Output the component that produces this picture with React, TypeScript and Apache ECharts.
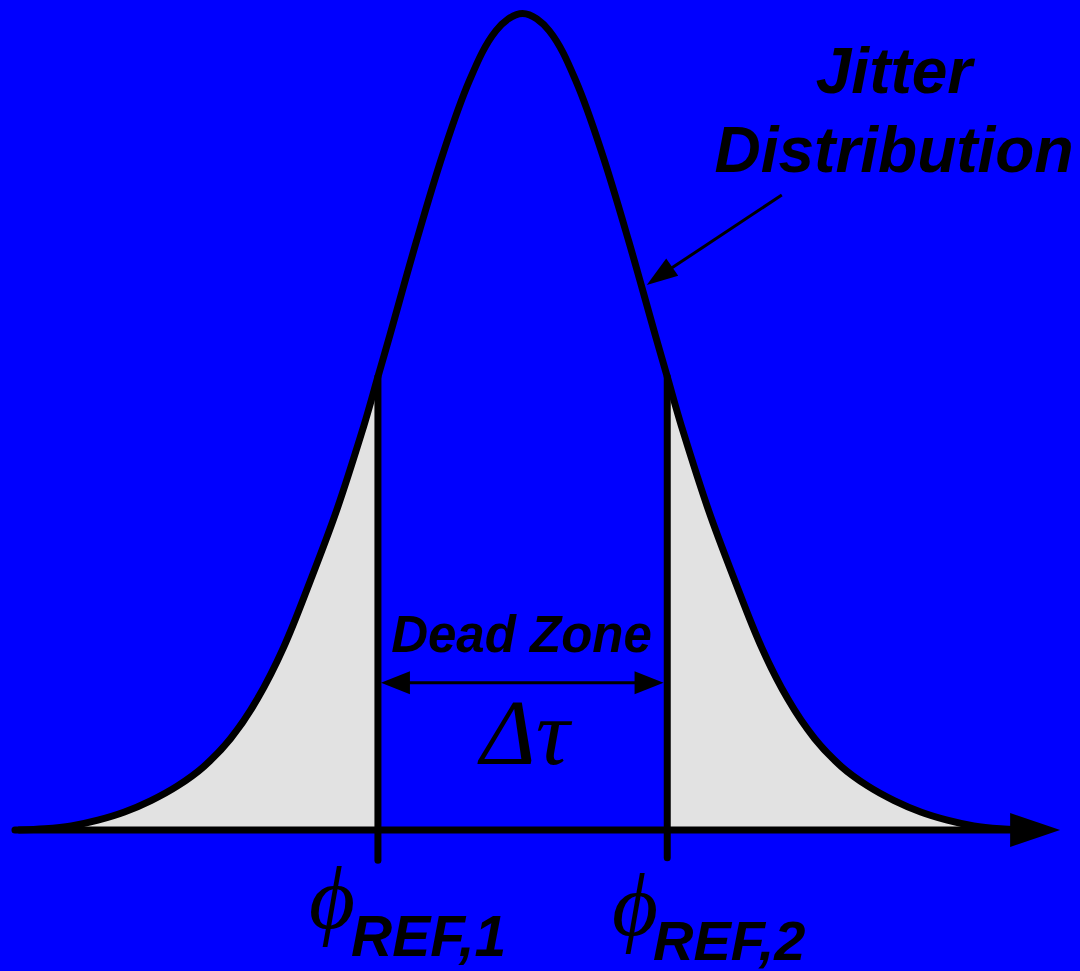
import React, { useEffect, useRef } from "react";
import * as echarts from "echarts";

// Jitter distribution (x in phase units, y in relative height), right half; mirrored for the left
const halfX = [0, 0.2, 0.4, 0.6, 0.8, 1.0, 1.09, 1.2, 1.4, 1.6, 1.8, 2.0, 2.2, 2.4, 2.6, 2.8, 3.0, 3.2, 3.4, 3.6, 3.8];
const halfY = [1.0, 0.979, 0.918, 0.828, 0.721, 0.606, 0.555, 0.493, 0.392, 0.305, 0.224, 0.160, 0.112, 0.078, 0.054, 0.036, 0.022, 0.012, 0.005, 0.0015, 0.0];

// Reference phases (phi_REF,1 and phi_REF,2)
const phiX = [-1.09, 1.09];
const phiTop = 0.555;
const phiBottom = [-0.037, -0.034];

// Horizontal axis extent
const axisStartX = -3.825;
const axisEndX = 3.75;
const axisArrowX = 3.862;

// Dead zone arrow
const deadZoneY = 0.1804;
const deadZoneLineX = [-1.0, 1.0];
const deadZoneArrowX = [-0.958, 0.953];

// Pointer from "Jitter Distribution" label to curve
const pointerFrom = [1.953, 0.7777];
const pointerHead = [1.0315, 0.6784];

export default function App() {
  const ref = useRef<HTMLDivElement>(null);
  useEffect(() => {
    if (!ref.current) return;
    const chart = echarts.init(ref.current, null, { renderer: "svg" });
    const leftPts: number[][] = [];
    for (let i = halfX.length - 1; i > 0; i--) leftPts.push([-halfX[i], halfY[i]]);
    const rightPts: number[][] = halfX.map((x, i) => [x, halfY[i]]);
    const pts = leftPts.concat(rightPts);
    const left = pts.filter((p) => p[0] <= phiX[0]);
    const right = pts.filter((p) => p[0] >= phiX[1]);
    const black = "#000000";
    const shade = "#e2e2e2";
    const lineBase = { type: "line", showSymbol: false, symbol: "none", silent: true, clip: false, z: 3 };
    const sans = '"Liberation Sans", Arial, sans-serif';
    const serif = '"Liberation Serif", "Times New Roman", serif';
    const txt = (text: string, x: number, y: number, size: number, opts: any = {}) => ({
      type: "text",
      x,
      y,
      silent: true,
      style: {
        text,
        fill: black,
        fontSize: size,
        fontWeight: opts.weight ?? "bold",
        fontStyle: "italic",
        fontFamily: opts.family ?? sans,
        align: opts.align ?? "center",
        verticalAlign: "middle",
        lineHeight: opts.lineHeight ?? size,
      },
    });
    chart.setOption({
      animation: false,
      backgroundColor: "#0000ff",
      grid: { left: 5, right: 0, top: 13.5, bottom: 2.2, containLabel: false },
      xAxis: { type: "value", min: -3.9, max: 4.2, show: false },
      yAxis: { type: "value", min: -0.17, max: 1, show: false },
      series: [
        { ...lineBase, z: 1, data: left, smooth: 0.35, lineStyle: { width: 0 }, areaStyle: { color: shade, opacity: 1 } },
        { ...lineBase, z: 1, data: right, smooth: 0.35, lineStyle: { width: 0 }, areaStyle: { color: shade, opacity: 1 } },
        { ...lineBase, data: pts, smooth: 0.35, lineStyle: { color: black, width: 7, join: "round" } },
        { ...lineBase, data: [[axisStartX, 0], [axisEndX, 0]], lineStyle: { color: black, width: 7, cap: "round" } },
        { ...lineBase, data: [[phiX[0], phiTop], [phiX[0], phiBottom[0]]], lineStyle: { color: black, width: 7, cap: "round" } },
        { ...lineBase, data: [[phiX[1], phiTop], [phiX[1], phiBottom[1]]], lineStyle: { color: black, width: 7, cap: "round" } },
        { ...lineBase, data: [[deadZoneLineX[0], deadZoneY], [deadZoneLineX[1], deadZoneY]], lineStyle: { color: black, width: 3 } },
        { ...lineBase, data: [pointerFrom, pointerHead], lineStyle: { color: black, width: 3 } },
        {
          type: "scatter",
          silent: true,
          z: 4,
          clip: false,
          symbol: "triangle",
          itemStyle: { color: black, opacity: 1 },
          data: [
            { value: [axisArrowX, 0], symbolSize: [34, 50], symbolRotate: -90 },
            { value: [deadZoneArrowX[0], deadZoneY], symbolSize: [23, 29], symbolRotate: 90 },
            { value: [deadZoneArrowX[1], deadZoneY], symbolSize: [23, 29], symbolRotate: -90 },
            { value: pointerHead, symbolSize: [21, 31], symbolRotate: 124.8 },
          ],
        },
      ],
      graphic: [
        txt("Jitter", 894, 70.5, 64),
        txt("Distribution", 894, 149.5, 64),
        txt("Dead Zone", 521.5, 634.5, 51),
        txt("P", 309, 742.5, 85),
        txt("P", 735, 742.5, 85),
        txt("Δτ", 525, 732, 94, { family: serif, weight: "normal" }),
        txt("ϕ", 332, 897.5, 89, { family: serif, weight: "normal" }),
        txt("REF,1", 351, 935.5, 57, { align: "left", lineHeight: 42 }),
        txt("ϕ", 635, 905, 89, { family: serif, weight: "normal" }),
        txt("REF,2", 653, 940, 56, { align: "left", lineHeight: 40 }),
      ],
    });
    return () => chart.dispose();
  }, []);
  return (
    <div
      ref={ref}
      style={{ position: "fixed", left: 0, top: 0, width: 1080, height: 971 }}
    />
  );
}
